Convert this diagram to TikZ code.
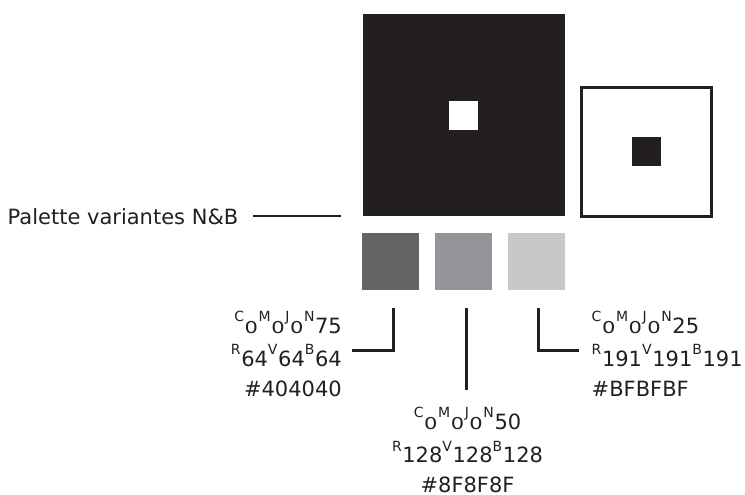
\documentclass[tikz,border=0pt]{standalone}
\usepackage{fontspec}
\setmainfont{DejaVu Sans}[Numbers=Monospaced]
\usepackage{graphicx}
\definecolor{ink}{HTML}{231F20}
\definecolor{gA}{HTML}{636466}
\definecolor{gB}{HTML}{939598}
\definecolor{gC}{HTML}{C7C8CA}
\newcommand{\supx}[1]{\raisebox{11.5bp}{\fontsize{14bp}{14bp}\selectfont #1}\kern0.6bp}
\newcommand{\zr}{\scalebox{1}[0.78]{0}\kern0.6bp}
\begin{document}
\begin{tikzpicture}[x=1bp,y=-1bp,
  txt/.style={inner sep=0pt, font=\fontsize{21bp}{25bp}\selectfont, text=ink},
  sq/.style={inner sep=0pt, outer sep=0pt, draw=none},
  conn/.style={draw=ink, line width=2.6bp, line cap=butt, line join=miter}]
\useasboundingbox (0,0) rectangle (745,495);
% big black square with white centre
\node[sq, fill=ink, minimum width=202.3bp, minimum height=201.7bp, anchor=north west] (big) at (362.7,14) {};
\node[sq, fill=white, minimum width=29bp, minimum height=29bp] (bigc) at (463.5,115.2) {};
% framed square with black centre
\node[inner sep=0pt, draw=ink, line width=3bp, fill=white, minimum width=129.7bp, minimum height=128.7bp] (frame) at (646.35,151.85) {};
\node[sq, fill=ink, minimum width=29.3bp, minimum height=29bp] (framec) at (646.35,151.2) {};
% grey swatches
\node[sq, fill=gA, minimum width=57bp, minimum height=57bp] (sA) at (390.5,261.2) {};
\node[sq, fill=gB, minimum width=57bp, minimum height=57bp] (sB) at (463.5,261.2) {};
\node[sq, fill=gC, minimum width=57bp, minimum height=57bp] (sC) at (536.5,261.2) {};
% label
\node[txt, anchor=base west] (lbl) at (7.5,224.3) {Palette variantes N\&B};
\coordinate (lblA) at (253.3,216.2);
\coordinate (lblB) at (340.7,216.2);
\draw[conn, line width=2.4bp] (lblA) -- (lblB);
% connectors
\coordinate (lA1) at (393.7,308.3);
\coordinate (lA2) at (393.7,350.7);
\coordinate (lA3) at (351.7,350.7);
\draw[conn] (lA1) -- (lA2) -- (lA3);
\coordinate (lB1) at (466.2,308.3);
\coordinate (lB2) at (466.2,390);
\draw[conn] (lB1) -- (lB2);
\coordinate (lC1) at (538.2,308.3);
\coordinate (lC2) at (538.2,350.7);
\coordinate (lC3) at (579.3,350.7);
\draw[conn] (lC1) -- (lC2) -- (lC3);
% texts
\node[txt, anchor=base east] (tA1) at (342,333) {\supx{C}\zr\supx{M}\zr\supx{J}\zr\supx{N}75};
\node[txt, anchor=base east] (tA2) at (342,366) {\supx{R}64\supx{V}64\supx{B}64};
\node[txt, anchor=base east] (tA3) at (342,396.5) {\#404040};
\node[txt, anchor=base] (tB1) at (467.5,429) {\supx{C}\zr\supx{M}\zr\supx{J}\zr\supx{N}50};
\node[txt, anchor=base] (tB2) at (467.5,462.5) {\supx{R}128\supx{V}128\supx{B}128};
\node[txt, anchor=base] (tB3) at (467.5,492.5) {\#8F8F8F};
\node[txt, anchor=base west] (tC1) at (591.5,333) {\supx{C}\zr\supx{M}\zr\supx{J}\zr\supx{N}25};
\node[txt, anchor=base west] (tC2) at (591.5,366) {\supx{R}191\supx{V}191\supx{B}191};
\node[txt, anchor=base west] (tC3) at (591.5,396.5) {\#BFBFBF};
\end{tikzpicture}
\end{document}
